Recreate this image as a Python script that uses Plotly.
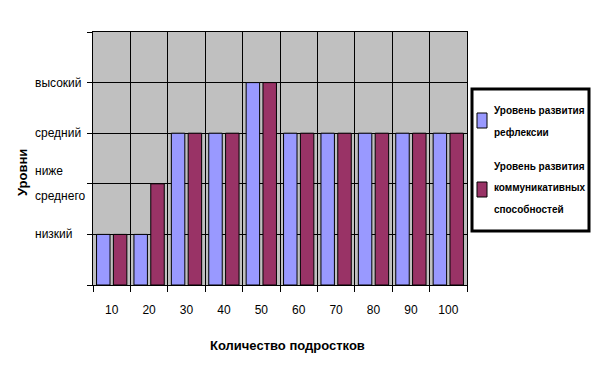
import plotly.graph_objects as go

categories = ["10", "20", "30", "40", "50", "60", "70", "80", "90", "100"]
reflex = [1, 1, 3, 3, 4, 3, 3, 3, 3, 3]
commun = [1, 2, 3, 3, 4, 3, 3, 3, 3, 3]
level_values = [1, 2, 3, 4]
level_labels = ["низкий", "ниже<br>среднего", "средний", "высокий"]
series_names = ["Уровень развития<br>рефлексии", "Уровень развития<br>коммуникативных<br>способностей"]
series_colors = ["#9999FF", "#993366"]

FONT = "Liberation Sans, Arial, sans-serif"

fig = go.Figure()
for vals, name, col in zip([reflex, commun], series_names, series_colors):
    fig.add_trace(go.Bar(x=categories, y=vals, name=name, showlegend=False,
                         marker=dict(color=col, line=dict(color="black", width=1))))

L, R, T, B = 93, 128, 32, 92
W, H = 595, 377
pw, ph = W - L - R, H - T - B

def px_x(x):
    return (x - L) / pw

def px_y(y):
    return (H - B - y) / ph

annotations = []
shapes = []
# y tick labels (left aligned)
for v, lab in zip(level_values, level_labels):
    lines = lab.split("<br>")
    n = len(lines)
    for i, ln in enumerate(lines):
        annotations.append(dict(x=px_x(33), y=v, xref="paper", yref="y", text=ln,
                                showarrow=False, xanchor="left", yanchor="middle", align="left",
                                yshift=(n - 1) * 12.5 - i * 25,
                                font=dict(family=FONT, size=12, color="black")))
annotations.append(dict(x=px_x(22), y=px_y(173), xref="paper", yref="paper",
                        text="<b>Уровни</b>", textangle=-90, showarrow=False,
                        xanchor="center", yanchor="middle",
                        font=dict(family=FONT, size=13, color="black")))
annotations.append(dict(x=px_x(287), y=px_y(345), xref="paper", yref="paper",
                        text="<b>Количество подростков</b>", showarrow=False,
                        xanchor="center", yanchor="middle",
                        font=dict(family=FONT, size=13, color="black")))

# manual legend
shapes.append(dict(type="rect", xref="paper", yref="paper",
                   x0=px_x(472), x1=px_x(589), y0=px_y(89), y1=px_y(231),
                   line=dict(color="black", width=3), fillcolor="white", layer="above"))
legend_rows = [((113, 128), [110, 132]), ((182, 197), [166, 187, 209])]
for ((s0, s1), line_ys), name, col in zip(legend_rows, series_names, series_colors):
    shapes.append(dict(type="rect", xref="paper", yref="paper",
                       x0=px_x(477), x1=px_x(487), y0=px_y(s0), y1=px_y(s1),
                       line=dict(color="black", width=1), fillcolor=col, layer="above"))
    for ln, ly in zip(name.split("<br>"), line_ys):
        annotations.append(dict(x=px_x(492), y=px_y(ly), xref="paper", yref="paper",
                                text="<b>" + ln + "</b>", showarrow=False,
                                xanchor="left", yanchor="middle", align="left",
                                font=dict(family=FONT, size=10, color="black")))

fig.update_layout(
    width=W, height=H,
    margin=dict(l=L, r=R, t=T, b=B, autoexpand=False),
    paper_bgcolor="white", plot_bgcolor="#C0C0C0",
    barmode="group", bargap=0.1, bargroupgap=0.2,
    font=dict(family=FONT, size=12, color="black"),
    showlegend=False,
    annotations=annotations,
    shapes=shapes,
    xaxis=dict(type="category", tickson="boundaries", showgrid=True, gridcolor="black",
               gridwidth=1, ticks="outside", ticklen=6, tickcolor="black",
               showline=True, linecolor="black", mirror=True, ticklabelstandoff=14,
               tickfont=dict(family=FONT, size=12)),
    yaxis=dict(range=[0, 5], tickvals=[0, 1, 2, 3, 4, 5], showticklabels=False,
               showgrid=True, gridcolor="black", gridwidth=1, ticks="outside", ticklen=5,
               tickcolor="black", showline=True, linecolor="black", mirror=True,
               zeroline=False),
)

fig.write_html("out.html")
